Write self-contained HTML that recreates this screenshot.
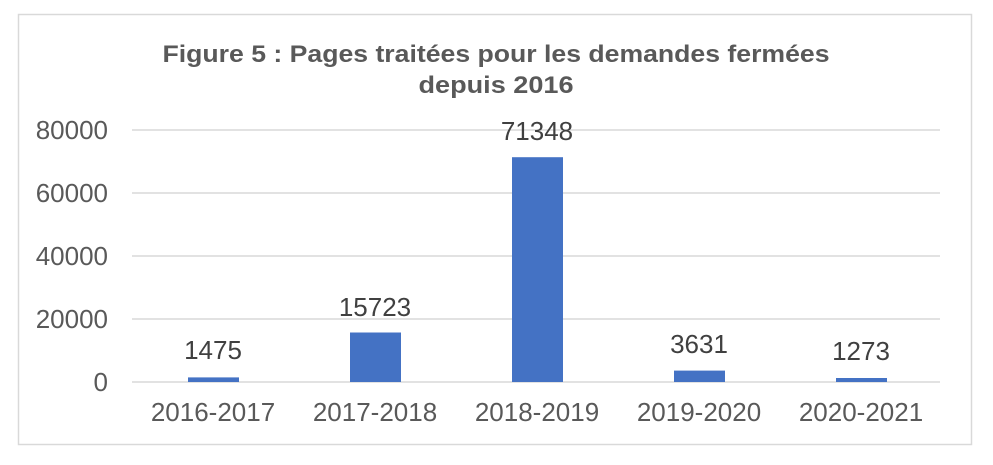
<!DOCTYPE html>
<html><head><meta charset="utf-8"><style>
body{margin:0;background:#fff;}
svg text{font-family:"Liberation Sans",Arial,sans-serif;}
</style></head><body>
<svg width="993" height="460" xmlns="http://www.w3.org/2000/svg">
<rect x="18.5" y="14.5" width="953" height="430" fill="#fff" stroke="#d9d9d9" stroke-width="1.5"/>
<text x="496" y="62" text-anchor="middle" font-size="24" font-weight="bold" fill="#595959" textLength="667" lengthAdjust="spacingAndGlyphs">Figure 5 : Pages traitées pour les demandes fermées</text>
<text x="496" y="93" text-anchor="middle" font-size="24" font-weight="bold" fill="#595959" textLength="155" lengthAdjust="spacingAndGlyphs">depuis 2016</text>
<g stroke="#d9d9d9" stroke-width="1.5">
<line x1="132" x2="940" y1="130" y2="130"/>
<line x1="132" x2="940" y1="193" y2="193"/>
<line x1="132" x2="940" y1="256" y2="256"/>
<line x1="132" x2="940" y1="319" y2="319"/>
<line x1="132" x2="940" y1="382" y2="382"/>
</g>
<g font-size="26" fill="#595959" text-anchor="end">
<text x="108" y="139">80000</text>
<text x="108" y="202">60000</text>
<text x="108" y="265">40000</text>
<text x="108" y="328">20000</text>
<text x="108" y="391">0</text>
</g>
<g fill="#4472c4">
<rect x="188" y="377.4" width="51" height="4.6"/>
<rect x="350" y="332.5" width="51" height="49.5"/>
<rect x="512" y="157.2" width="51" height="224.8"/>
<rect x="674" y="370.6" width="51" height="11.4"/>
<rect x="836" y="378" width="51" height="4"/>
</g>
<g font-size="26" fill="#404040" text-anchor="middle">
<text x="213" y="359">1475</text>
<text x="375" y="316">15723</text>
<text x="537" y="140">71348</text>
<text x="699" y="353">3631</text>
<text x="861" y="360">1273</text>
</g>
<g font-size="26" fill="#595959" text-anchor="middle">
<text x="213" y="421">2016-2017</text>
<text x="375" y="421">2017-2018</text>
<text x="537" y="421">2018-2019</text>
<text x="699" y="421">2019-2020</text>
<text x="861" y="421">2020-2021</text>
</g>
</svg>
</body></html>
